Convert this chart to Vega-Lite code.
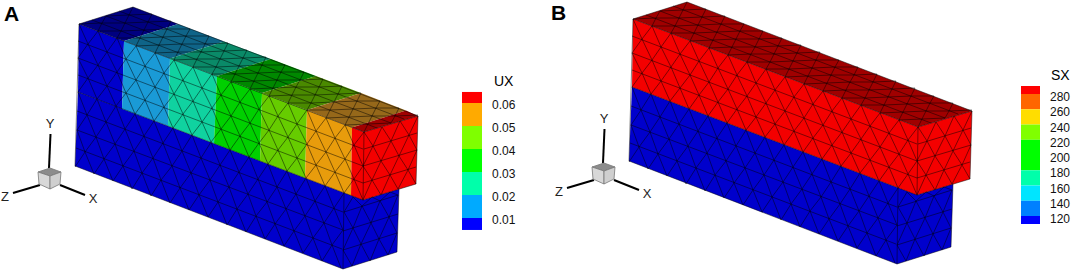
{"$schema":"https://vega.github.io/schema/vega-lite/v6.json","padding":0,"spacing":0,"background":"white",
"config":{"view":{"stroke":null},"axis":{"disable":true},"legend":{"disable":true}},
"datasets":{
"facesA":[
{"p":"a","k":"blue","x":78,"y":92},{"p":"a","k":"blue","x":363,"y":200},{"p":"a","k":"blue","x":343,"y":269},{"p":"a","k":"blue","x":75,"y":166},
{"p":"b","k":"blue","x":344,"y":193},{"p":"b","k":"blue","x":363,"y":200},{"p":"b","k":"blue","x":399,"y":189},{"p":"b","k":"blue","x":397,"y":252},{"p":"b","k":"blue","x":343,"y":269},
{"p":"c","k":"blue","x":79,"y":24},{"p":"c","k":"blue","x":124,"y":41},{"p":"c","k":"blue","x":122,"y":109},{"p":"c","k":"blue","x":78,"y":92},
{"p":"d","k":"sky","x":124,"y":41},{"p":"d","k":"sky","x":170,"y":58.5},{"p":"d","k":"sky","x":168,"y":126},{"p":"d","k":"sky","x":122,"y":109},
{"p":"e","k":"teal","x":170,"y":58.5},{"p":"e","k":"teal","x":217,"y":76},{"p":"e","k":"teal","x":214,"y":143.5},{"p":"e","k":"teal","x":168,"y":126},
{"p":"f","k":"green","x":217,"y":76},{"p":"f","k":"green","x":262,"y":93},{"p":"f","k":"green","x":260,"y":161},{"p":"f","k":"green","x":214,"y":143.5},
{"p":"g","k":"lime","x":262,"y":93},{"p":"g","k":"lime","x":307,"y":110},{"p":"g","k":"lime","x":305,"y":178},{"p":"g","k":"lime","x":260,"y":161},
{"p":"h","k":"orange","x":307,"y":110},{"p":"h","k":"orange","x":352,"y":127.5},{"p":"h","k":"orange","x":351,"y":195.5},{"p":"h","k":"orange","x":305,"y":178},
{"p":"i","k":"red","x":352,"y":127.5},{"p":"i","k":"red","x":364,"y":132},{"p":"i","k":"red","x":418,"y":116},{"p":"i","k":"red","x":416,"y":184},{"p":"i","k":"red","x":363,"y":200},{"p":"i","k":"red","x":351,"y":195.5},
{"p":"j","k":"blue top","x":79,"y":24},{"p":"j","k":"blue top","x":133,"y":7},{"p":"j","k":"blue top","x":178,"y":24},{"p":"j","k":"blue top","x":124,"y":41},
{"p":"k","k":"sky top","x":124,"y":41},{"p":"k","k":"sky top","x":178,"y":24},{"p":"k","k":"sky top","x":224,"y":41.5},{"p":"k","k":"sky top","x":170,"y":58.5},
{"p":"l","k":"teal top","x":170,"y":58.5},{"p":"l","k":"teal top","x":224,"y":41.5},{"p":"l","k":"teal top","x":271,"y":59},{"p":"l","k":"teal top","x":217,"y":76},
{"p":"m","k":"green top","x":217,"y":76},{"p":"m","k":"green top","x":271,"y":59},{"p":"m","k":"green top","x":316,"y":76},{"p":"m","k":"green top","x":262,"y":93},
{"p":"n","k":"lime top","x":262,"y":93},{"p":"n","k":"lime top","x":316,"y":76},{"p":"n","k":"lime top","x":361,"y":93},{"p":"n","k":"lime top","x":307,"y":110},
{"p":"o","k":"orange top","x":307,"y":110},{"p":"o","k":"orange top","x":361,"y":93},{"p":"o","k":"orange top","x":406,"y":110.5},{"p":"o","k":"orange top","x":352,"y":127.5},
{"p":"q","k":"red top","x":352,"y":127.5},{"p":"q","k":"red top","x":406,"y":110.5},{"p":"q","k":"red top","x":418,"y":116},{"p":"q","k":"red top","x":364,"y":132}],
"facesB":[
{"p":"a","k":"blue","x":78,"y":92},{"p":"a","k":"blue","x":363,"y":200},{"p":"a","k":"blue","x":343,"y":269},{"p":"a","k":"blue","x":75,"y":166},
{"p":"b","k":"blue","x":344,"y":193},{"p":"b","k":"blue","x":363,"y":200},{"p":"b","k":"blue","x":399,"y":189},{"p":"b","k":"blue","x":397,"y":252},{"p":"b","k":"blue","x":343,"y":269},
{"p":"c","k":"red","x":79,"y":24},{"p":"c","k":"red","x":364,"y":132},{"p":"c","k":"red","x":418,"y":116},{"p":"c","k":"red","x":416,"y":184},{"p":"c","k":"red","x":363,"y":200},{"p":"c","k":"red","x":78,"y":92},
{"p":"d","k":"red top","x":79,"y":24},{"p":"d","k":"red top","x":133,"y":7},{"p":"d","k":"red top","x":418,"y":116},{"p":"d","k":"red top","x":364,"y":132}],
"mesh":[
{"l":"e1","x":79,"y":24},{"l":"e1","x":133,"y":7},{"l":"e1","x":418,"y":116},{"l":"e1","x":416,"y":184},{"l":"e1","x":363,"y":200},{"l":"e1","x":364,"y":132},{"l":"e1","x":418,"y":116},
{"l":"e2","x":364,"y":132},{"l":"e2","x":79,"y":24},{"l":"e2","x":75,"y":166},{"l":"e2","x":343,"y":269},{"l":"e2","x":397,"y":252},{"l":"e2","x":399,"y":189},
{"l":"e3","x":78,"y":92},{"l":"e3","x":363,"y":200},
{"l":"e4","x":343,"y":269},{"l":"e4","x":344,"y":193},
{"l":"r1","x":78,"y":41},{"l":"r1","x":363,"y":149},{"l":"r2","x":78,"y":58},{"l":"r2","x":363,"y":166},{"l":"r3","x":78,"y":75},{"l":"r3","x":363,"y":183},
{"l":"r4","x":77,"y":111},{"l":"r4","x":343,"y":212},{"l":"r5","x":77,"y":130},{"l":"r5","x":343,"y":230},{"l":"r6","x":76,"y":148},{"l":"r6","x":342,"y":249},
{"l":"r7","x":92,"y":20},{"l":"r7","x":377,"y":128},{"l":"r8","x":106,"y":16},{"l":"r8","x":391,"y":123},{"l":"r9","x":119,"y":11},{"l":"r9","x":404,"y":119},
{"l":"s1","x":364,"y":149},{"l":"s1","x":417,"y":133},{"l":"s2","x":363,"y":166},{"l":"s2","x":417,"y":150},{"l":"s3","x":363,"y":183},{"l":"s3","x":416,"y":167},
{"l":"s4","x":344,"y":212},{"l":"s4","x":398,"y":195},{"l":"s5","x":343,"y":231},{"l":"s5","x":398,"y":214},{"l":"s6","x":343,"y":250},{"l":"s6","x":397,"y":233},
{"l":"u1","x":79,"y":24},{"l":"u1","x":88,"y":44},{"l":"u1","x":98,"y":31},{"l":"u1","x":107,"y":52},{"l":"u1","x":117,"y":38},{"l":"u1","x":126,"y":59},{"l":"u1","x":136,"y":46},{"l":"u1","x":145,"y":66},{"l":"u1","x":155,"y":53},{"l":"u1","x":164,"y":73},{"l":"u1","x":174,"y":60},{"l":"u1","x":183,"y":80},{"l":"u1","x":193,"y":67},{"l":"u1","x":202,"y":88},{"l":"u1","x":212,"y":74},{"l":"u1","x":221,"y":95},{"l":"u1","x":231,"y":82},{"l":"u1","x":240,"y":102},{"l":"u1","x":250,"y":89},{"l":"u1","x":259,"y":109},{"l":"u1","x":269,"y":96},{"l":"u1","x":278,"y":116},{"l":"u1","x":288,"y":103},{"l":"u1","x":297,"y":124},{"l":"u1","x":307,"y":110},{"l":"u1","x":316,"y":131},{"l":"u1","x":326,"y":118},{"l":"u1","x":335,"y":138},{"l":"u1","x":345,"y":125},{"l":"u1","x":354,"y":145},{"l":"u1","x":364,"y":132},
{"l":"u2","x":78,"y":58},{"l":"u2","x":88,"y":44},{"l":"u2","x":98,"y":65},{"l":"u2","x":107,"y":52},{"l":"u2","x":117,"y":72},{"l":"u2","x":126,"y":59},{"l":"u2","x":136,"y":80},{"l":"u2","x":145,"y":66},{"l":"u2","x":155,"y":87},{"l":"u2","x":164,"y":73},{"l":"u2","x":174,"y":94},{"l":"u2","x":183,"y":80},{"l":"u2","x":193,"y":101},{"l":"u2","x":202,"y":88},{"l":"u2","x":212,"y":108},{"l":"u2","x":221,"y":95},{"l":"u2","x":231,"y":116},{"l":"u2","x":240,"y":102},{"l":"u2","x":250,"y":123},{"l":"u2","x":259,"y":109},{"l":"u2","x":269,"y":130},{"l":"u2","x":278,"y":116},{"l":"u2","x":288,"y":137},{"l":"u2","x":297,"y":124},{"l":"u2","x":307,"y":144},{"l":"u2","x":316,"y":131},{"l":"u2","x":326,"y":152},{"l":"u2","x":335,"y":138},{"l":"u2","x":345,"y":159},{"l":"u2","x":354,"y":145},{"l":"u2","x":363,"y":166},
{"l":"u3","x":78,"y":58},{"l":"u3","x":88,"y":78},{"l":"u3","x":98,"y":65},{"l":"u3","x":107,"y":86},{"l":"u3","x":117,"y":72},{"l":"u3","x":126,"y":93},{"l":"u3","x":136,"y":80},{"l":"u3","x":145,"y":100},{"l":"u3","x":155,"y":87},{"l":"u3","x":164,"y":107},{"l":"u3","x":174,"y":94},{"l":"u3","x":183,"y":114},{"l":"u3","x":193,"y":101},{"l":"u3","x":202,"y":122},{"l":"u3","x":212,"y":108},{"l":"u3","x":221,"y":129},{"l":"u3","x":231,"y":116},{"l":"u3","x":240,"y":136},{"l":"u3","x":250,"y":123},{"l":"u3","x":259,"y":143},{"l":"u3","x":269,"y":130},{"l":"u3","x":278,"y":150},{"l":"u3","x":288,"y":137},{"l":"u3","x":297,"y":158},{"l":"u3","x":307,"y":144},{"l":"u3","x":316,"y":165},{"l":"u3","x":326,"y":152},{"l":"u3","x":335,"y":172},{"l":"u3","x":345,"y":159},{"l":"u3","x":354,"y":179},{"l":"u3","x":363,"y":166},
{"l":"u4","x":78,"y":92},{"l":"u4","x":88,"y":78},{"l":"u4","x":97,"y":99},{"l":"u4","x":107,"y":86},{"l":"u4","x":116,"y":106},{"l":"u4","x":126,"y":93},{"l":"u4","x":135,"y":114},{"l":"u4","x":145,"y":100},{"l":"u4","x":154,"y":121},{"l":"u4","x":164,"y":107},{"l":"u4","x":173,"y":128},{"l":"u4","x":183,"y":114},{"l":"u4","x":192,"y":135},{"l":"u4","x":202,"y":122},{"l":"u4","x":211,"y":142},{"l":"u4","x":221,"y":129},{"l":"u4","x":230,"y":150},{"l":"u4","x":240,"y":136},{"l":"u4","x":249,"y":157},{"l":"u4","x":259,"y":143},{"l":"u4","x":268,"y":164},{"l":"u4","x":278,"y":150},{"l":"u4","x":287,"y":171},{"l":"u4","x":297,"y":158},{"l":"u4","x":306,"y":178},{"l":"u4","x":316,"y":165},{"l":"u4","x":325,"y":186},{"l":"u4","x":335,"y":172},{"l":"u4","x":344,"y":193},{"l":"u4","x":354,"y":179},{"l":"u4","x":363,"y":200},
{"l":"v1","x":78,"y":92},{"l":"v1","x":87,"y":115},{"l":"v1","x":97,"y":99},{"l":"v1","x":106,"y":122},{"l":"v1","x":116,"y":106},{"l":"v1","x":125,"y":129},{"l":"v1","x":135,"y":114},{"l":"v1","x":144,"y":136},{"l":"v1","x":154,"y":121},{"l":"v1","x":163,"y":143},{"l":"v1","x":173,"y":128},{"l":"v1","x":182,"y":151},{"l":"v1","x":192,"y":135},{"l":"v1","x":201,"y":158},{"l":"v1","x":211,"y":142},{"l":"v1","x":220,"y":165},{"l":"v1","x":230,"y":150},{"l":"v1","x":239,"y":172},{"l":"v1","x":249,"y":157},{"l":"v1","x":258,"y":179},{"l":"v1","x":268,"y":164},{"l":"v1","x":277,"y":187},{"l":"v1","x":287,"y":171},{"l":"v1","x":296,"y":194},{"l":"v1","x":306,"y":178},{"l":"v1","x":315,"y":201},{"l":"v1","x":325,"y":186},{"l":"v1","x":334,"y":208},{"l":"v1","x":344,"y":193},
{"l":"v2","x":77,"y":130},{"l":"v2","x":87,"y":115},{"l":"v2","x":96,"y":137},{"l":"v2","x":106,"y":122},{"l":"v2","x":115,"y":144},{"l":"v2","x":125,"y":129},{"l":"v2","x":134,"y":151},{"l":"v2","x":144,"y":136},{"l":"v2","x":153,"y":158},{"l":"v2","x":163,"y":143},{"l":"v2","x":172,"y":166},{"l":"v2","x":182,"y":151},{"l":"v2","x":191,"y":173},{"l":"v2","x":201,"y":158},{"l":"v2","x":210,"y":180},{"l":"v2","x":220,"y":165},{"l":"v2","x":229,"y":187},{"l":"v2","x":239,"y":172},{"l":"v2","x":248,"y":194},{"l":"v2","x":258,"y":179},{"l":"v2","x":267,"y":202},{"l":"v2","x":277,"y":187},{"l":"v2","x":286,"y":209},{"l":"v2","x":296,"y":194},{"l":"v2","x":305,"y":216},{"l":"v2","x":315,"y":201},{"l":"v2","x":324,"y":223},{"l":"v2","x":334,"y":208},{"l":"v2","x":343,"y":230},
{"l":"v3","x":77,"y":130},{"l":"v3","x":85,"y":152},{"l":"v3","x":96,"y":137},{"l":"v3","x":104,"y":159},{"l":"v3","x":115,"y":144},{"l":"v3","x":123,"y":166},{"l":"v3","x":134,"y":151},{"l":"v3","x":142,"y":173},{"l":"v3","x":153,"y":158},{"l":"v3","x":161,"y":180},{"l":"v3","x":172,"y":166},{"l":"v3","x":180,"y":188},{"l":"v3","x":191,"y":173},{"l":"v3","x":199,"y":195},{"l":"v3","x":210,"y":180},{"l":"v3","x":218,"y":202},{"l":"v3","x":229,"y":187},{"l":"v3","x":237,"y":209},{"l":"v3","x":248,"y":194},{"l":"v3","x":256,"y":216},{"l":"v3","x":267,"y":202},{"l":"v3","x":275,"y":224},{"l":"v3","x":286,"y":209},{"l":"v3","x":294,"y":231},{"l":"v3","x":305,"y":216},{"l":"v3","x":313,"y":238},{"l":"v3","x":324,"y":223},{"l":"v3","x":332,"y":245},{"l":"v3","x":343,"y":230},
{"l":"v4","x":75,"y":167},{"l":"v4","x":85,"y":152},{"l":"v4","x":94,"y":174},{"l":"v4","x":104,"y":159},{"l":"v4","x":113,"y":181},{"l":"v4","x":123,"y":166},{"l":"v4","x":132,"y":189},{"l":"v4","x":142,"y":173},{"l":"v4","x":151,"y":196},{"l":"v4","x":161,"y":180},{"l":"v4","x":170,"y":203},{"l":"v4","x":180,"y":188},{"l":"v4","x":189,"y":210},{"l":"v4","x":199,"y":195},{"l":"v4","x":208,"y":217},{"l":"v4","x":218,"y":202},{"l":"v4","x":227,"y":225},{"l":"v4","x":237,"y":209},{"l":"v4","x":246,"y":232},{"l":"v4","x":256,"y":216},{"l":"v4","x":265,"y":239},{"l":"v4","x":275,"y":224},{"l":"v4","x":284,"y":246},{"l":"v4","x":294,"y":231},{"l":"v4","x":303,"y":253},{"l":"v4","x":313,"y":238},{"l":"v4","x":322,"y":261},{"l":"v4","x":332,"y":245},{"l":"v4","x":341,"y":268},
{"l":"t1","x":79,"y":24},{"l":"t1","x":102,"y":23},{"l":"t1","x":98,"y":31},{"l":"t1","x":121,"y":31},{"l":"t1","x":117,"y":38},{"l":"t1","x":140,"y":38},{"l":"t1","x":136,"y":46},{"l":"t1","x":159,"y":45},{"l":"t1","x":155,"y":53},{"l":"t1","x":178,"y":52},{"l":"t1","x":174,"y":60},{"l":"t1","x":197,"y":59},{"l":"t1","x":193,"y":67},{"l":"t1","x":216,"y":67},{"l":"t1","x":212,"y":74},{"l":"t1","x":235,"y":74},{"l":"t1","x":231,"y":82},{"l":"t1","x":254,"y":81},{"l":"t1","x":250,"y":89},{"l":"t1","x":273,"y":88},{"l":"t1","x":269,"y":96},{"l":"t1","x":292,"y":95},{"l":"t1","x":288,"y":103},{"l":"t1","x":311,"y":103},{"l":"t1","x":307,"y":110},{"l":"t1","x":330,"y":110},{"l":"t1","x":326,"y":118},{"l":"t1","x":349,"y":117},{"l":"t1","x":345,"y":125},{"l":"t1","x":368,"y":124},{"l":"t1","x":364,"y":132},
{"l":"t2","x":106,"y":16},{"l":"t2","x":102,"y":23},{"l":"t2","x":125,"y":23},{"l":"t2","x":121,"y":31},{"l":"t2","x":144,"y":30},{"l":"t2","x":140,"y":38},{"l":"t2","x":163,"y":37},{"l":"t2","x":159,"y":45},{"l":"t2","x":182,"y":44},{"l":"t2","x":178,"y":52},{"l":"t2","x":201,"y":52},{"l":"t2","x":197,"y":59},{"l":"t2","x":220,"y":59},{"l":"t2","x":216,"y":67},{"l":"t2","x":239,"y":66},{"l":"t2","x":235,"y":74},{"l":"t2","x":258,"y":73},{"l":"t2","x":254,"y":81},{"l":"t2","x":277,"y":80},{"l":"t2","x":273,"y":88},{"l":"t2","x":296,"y":87},{"l":"t2","x":292,"y":95},{"l":"t2","x":315,"y":95},{"l":"t2","x":311,"y":103},{"l":"t2","x":334,"y":102},{"l":"t2","x":330,"y":110},{"l":"t2","x":353,"y":109},{"l":"t2","x":349,"y":117},{"l":"t2","x":372,"y":116},{"l":"t2","x":368,"y":124},{"l":"t2","x":391,"y":123},
{"l":"t3","x":106,"y":16},{"l":"t3","x":129,"y":15},{"l":"t3","x":125,"y":23},{"l":"t3","x":148,"y":22},{"l":"t3","x":144,"y":30},{"l":"t3","x":167,"y":29},{"l":"t3","x":163,"y":37},{"l":"t3","x":186,"y":36},{"l":"t3","x":182,"y":44},{"l":"t3","x":205,"y":44},{"l":"t3","x":201,"y":52},{"l":"t3","x":224,"y":51},{"l":"t3","x":220,"y":59},{"l":"t3","x":243,"y":58},{"l":"t3","x":239,"y":66},{"l":"t3","x":262,"y":65},{"l":"t3","x":258,"y":73},{"l":"t3","x":281,"y":72},{"l":"t3","x":277,"y":80},{"l":"t3","x":300,"y":80},{"l":"t3","x":296,"y":87},{"l":"t3","x":319,"y":87},{"l":"t3","x":315,"y":95},{"l":"t3","x":338,"y":94},{"l":"t3","x":334,"y":102},{"l":"t3","x":357,"y":101},{"l":"t3","x":353,"y":109},{"l":"t3","x":376,"y":108},{"l":"t3","x":372,"y":116},{"l":"t3","x":395,"y":116},{"l":"t3","x":391,"y":123},
{"l":"t4","x":133,"y":7},{"l":"t4","x":129,"y":15},{"l":"t4","x":152,"y":14},{"l":"t4","x":148,"y":22},{"l":"t4","x":171,"y":21},{"l":"t4","x":167,"y":29},{"l":"t4","x":190,"y":29},{"l":"t4","x":186,"y":36},{"l":"t4","x":209,"y":36},{"l":"t4","x":205,"y":44},{"l":"t4","x":228,"y":43},{"l":"t4","x":224,"y":51},{"l":"t4","x":247,"y":50},{"l":"t4","x":243,"y":58},{"l":"t4","x":266,"y":57},{"l":"t4","x":262,"y":65},{"l":"t4","x":285,"y":65},{"l":"t4","x":281,"y":72},{"l":"t4","x":304,"y":72},{"l":"t4","x":300,"y":80},{"l":"t4","x":323,"y":79},{"l":"t4","x":319,"y":87},{"l":"t4","x":342,"y":86},{"l":"t4","x":338,"y":94},{"l":"t4","x":361,"y":93},{"l":"t4","x":357,"y":101},{"l":"t4","x":380,"y":101},{"l":"t4","x":376,"y":108},{"l":"t4","x":399,"y":108},{"l":"t4","x":395,"y":116},{"l":"t4","x":418,"y":115},
{"l":"w1","x":364,"y":132},{"l":"w1","x":373,"y":146},{"l":"w1","x":382,"y":127},{"l":"w1","x":391,"y":141},{"l":"w1","x":400,"y":121},{"l":"w1","x":409,"y":135},{"l":"w1","x":418,"y":116},
{"l":"w2","x":363,"y":166},{"l":"w2","x":373,"y":146},{"l":"w2","x":381,"y":161},{"l":"w2","x":391,"y":141},{"l":"w2","x":399,"y":156},{"l":"w2","x":409,"y":135},{"l":"w2","x":417,"y":150},
{"l":"w3","x":363,"y":166},{"l":"w3","x":372,"y":180},{"l":"w3","x":381,"y":161},{"l":"w3","x":390,"y":175},{"l":"w3","x":399,"y":156},{"l":"w3","x":408,"y":170},{"l":"w3","x":417,"y":150},
{"l":"w4","x":363,"y":200},{"l":"w4","x":372,"y":180},{"l":"w4","x":381,"y":195},{"l":"w4","x":390,"y":175},{"l":"w4","x":398,"y":189},{"l":"w4","x":408,"y":170},{"l":"w4","x":416,"y":184},
{"l":"x0","x":344,"y":212},{"l":"x0","x":353,"y":197},{"l":"x0","x":362,"y":206},{"l":"x0","x":372,"y":197},{"l":"x0","x":380,"y":201},{"l":"x0","x":390,"y":192},{"l":"x0","x":398,"y":195},
{"l":"x1","x":344,"y":212},{"l":"x1","x":353,"y":228},{"l":"x1","x":362,"y":206},{"l":"x1","x":371,"y":223},{"l":"x1","x":380,"y":201},{"l":"x1","x":389,"y":217},{"l":"x1","x":398,"y":195},
{"l":"x2","x":343,"y":250},{"l":"x2","x":353,"y":228},{"l":"x2","x":361,"y":244},{"l":"x2","x":371,"y":223},{"l":"x2","x":379,"y":239},{"l":"x2","x":389,"y":217},{"l":"x2","x":397,"y":233},
{"l":"x3","x":343,"y":250},{"l":"x3","x":352,"y":266},{"l":"x3","x":361,"y":244},{"l":"x3","x":370,"y":261},{"l":"x3","x":379,"y":239},{"l":"x3","x":388,"y":255},{"l":"x3","x":397,"y":233}],
"axes":[
{"a":"Y","x":50.5,"y":134},{"a":"Y","x":49,"y":168},{"a":"X","x":60,"y":185},{"a":"X","x":85,"y":195},{"a":"Z","x":40,"y":185},{"a":"Z","x":13,"y":193}],
"axisLabels":[{"t":"Y","x":50,"y":124},{"t":"X","x":93,"y":199},{"t":"Z","x":5,"y":197}],
"cube":[
{"f":"top","x":38,"y":172},{"f":"top","x":50,"y":168},{"f":"top","x":61,"y":172},{"f":"top","x":50,"y":176},{"f":"top","x":38,"y":172},
{"f":"left","x":38,"y":172},{"f":"left","x":50,"y":176},{"f":"left","x":50,"y":189},{"f":"left","x":39,"y":184},{"f":"left","x":38,"y":172},
{"f":"right","x":50,"y":176},{"f":"right","x":61,"y":172},{"f":"right","x":60,"y":184},{"f":"right","x":50,"y":189},{"f":"right","x":50,"y":176}]
},
"hconcat":[
{"width":536,"height":271,"resolve":{"scale":{"y":"independent","fill":"independent"}},"layer":[
{"data":{"name":"facesA"},"mark":{"type":"line","filled":true},"encoding":{"x":{"field":"x","type":"quantitative","scale":{"domain":[0,536],"nice":false,"zero":false}},"y":{"field":"y","type":"quantitative","scale":{"domain":[271,0],"nice":false,"zero":false}},"detail":{"field":"p"},"order":{"value":null},"fill":{"field":"k","type":"nominal","scale":{"domain":["blue","sky","teal","green","lime","orange","red","blue top","sky top","teal top","green top","lime top","orange top","red top"],"range":["#0000cc","#1a9ad6","#10d2a0","#00d000","#66cc00","#e89c0c","#f40000","#000080","#0f6488","#0a8a68","#008800","#4a8a00","#96681a","#a00000"]}}}},
{"data":{"name":"mesh"},"mark":{"type":"line","stroke":"#000000","strokeWidth":0.6,"opacity":0.8},"encoding":{"x":{"field":"x","type":"quantitative"},"y":{"field":"y","type":"quantitative","scale":{"domain":[271,0],"nice":false,"zero":false}},"detail":{"field":"l"},"order":{"value":null}}},
{"data":{"name":"axes"},"mark":{"type":"line","stroke":"#000000","strokeWidth":2},"encoding":{"x":{"field":"x","type":"quantitative"},"y":{"field":"y","type":"quantitative","scale":{"domain":[271,0],"nice":false,"zero":false}},"detail":{"field":"a"},"order":{"value":null}}},
{"data":{"name":"cube"},"mark":{"type":"line","filled":true,"stroke":"#777777","strokeWidth":0.8},"encoding":{"x":{"field":"x","type":"quantitative"},"y":{"field":"y","type":"quantitative","scale":{"domain":[271,0],"nice":false,"zero":false}},"detail":{"field":"f"},"order":{"value":null},"fill":{"field":"f","type":"nominal","scale":{"domain":["top","left","right"],"range":["#8c8c8c","#d8d8d8","#cfcfcf"]}}}},
{"data":{"name":"axisLabels"},"mark":{"type":"text","font":"Liberation Sans","fontSize":13,"fill":"#222222"},"encoding":{"x":{"field":"x","type":"quantitative"},"y":{"field":"y","type":"quantitative","scale":{"domain":[271,0],"nice":false,"zero":false}},"text":{"field":"t"}}},
{"data":{"values":[{"t":"A","x":4,"y":21}]},"mark":{"type":"text","font":"Liberation Sans","align":"left","baseline":"alphabetic","fill":"#000000","fontSize":21,"fontWeight":"bold"},"encoding":{"x":{"field":"x","type":"quantitative"},"y":{"field":"y","type":"quantitative","scale":{"domain":[271,0],"nice":false,"zero":false}},"text":{"field":"t"}}},
{"data":{"values":[{"t":"UX","x":494,"y":86}]},"mark":{"type":"text","font":"Liberation Sans","align":"left","baseline":"alphabetic","fill":"#000000","fontSize":14},"encoding":{"x":{"field":"x","type":"quantitative"},"y":{"field":"y","type":"quantitative","scale":{"domain":[271,0],"nice":false,"zero":false}},"text":{"field":"t"}}},
{"data":{"values":[{"lo":0.06,"hi":0.0648,"k":"a"},{"lo":0.05,"hi":0.06,"k":"b"},{"lo":0.04,"hi":0.05,"k":"c"},{"lo":0.03,"hi":0.04,"k":"d"},{"lo":0.02,"hi":0.03,"k":"e"},{"lo":0.01,"hi":0.02,"k":"f"},{"lo":0.0048,"hi":0.01,"k":"g"}]},"mark":{"type":"rect"},"encoding":{"x":{"datum":462,"type":"quantitative"},"x2":{"datum":482},"y":{"field":"lo","type":"quantitative","scale":{"domain":[-0.01304,0.10478],"nice":false,"zero":false}},"y2":{"field":"hi"},"fill":{"field":"k","type":"nominal","scale":{"domain":["a","b","c","d","e","f","g"],"range":["#ff0000","#ffaa00","#7fff00","#00ff00","#00ffaa","#00aaff","#0000ff"]}}}},
{"data":{"values":[{"v":0.06,"t":"0.06"},{"v":0.05,"t":"0.05"},{"v":0.04,"t":"0.04"},{"v":0.03,"t":"0.03"},{"v":0.02,"t":"0.02"},{"v":0.01,"t":"0.01"}]},"mark":{"type":"text","font":"Liberation Sans","fontSize":12,"align":"left","dy":2,"fill":"#111111"},"encoding":{"x":{"datum":492,"type":"quantitative"},"y":{"field":"v","type":"quantitative","scale":{"domain":[-0.01304,0.10478],"nice":false,"zero":false}},"text":{"field":"t"}}}
]},
{"width":536,"height":271,"resolve":{"scale":{"y":"independent","fill":"independent"}},"layer":[
{"data":{"name":"facesB"},"mark":{"type":"line","filled":true},"encoding":{"x":{"field":"x","type":"quantitative","scale":{"domain":[-18,518],"nice":false,"zero":false}},"y":{"field":"y","type":"quantitative","scale":{"domain":[276,5],"nice":false,"zero":false}},"detail":{"field":"p"},"order":{"value":null},"fill":{"field":"k","type":"nominal","scale":{"domain":["blue","red","red top"],"range":["#0000cc","#f40000","#a00000"]}}}},
{"data":{"name":"mesh"},"mark":{"type":"line","stroke":"#000000","strokeWidth":0.6,"opacity":0.8},"encoding":{"x":{"field":"x","type":"quantitative"},"y":{"field":"y","type":"quantitative","scale":{"domain":[276,5],"nice":false,"zero":false}},"detail":{"field":"l"},"order":{"value":null}}},
{"data":{"name":"axes"},"mark":{"type":"line","stroke":"#000000","strokeWidth":2},"encoding":{"x":{"field":"x","type":"quantitative"},"y":{"field":"y","type":"quantitative","scale":{"domain":[276,5],"nice":false,"zero":false}},"detail":{"field":"a"},"order":{"value":null}}},
{"data":{"name":"cube"},"mark":{"type":"line","filled":true,"stroke":"#777777","strokeWidth":0.8},"encoding":{"x":{"field":"x","type":"quantitative"},"y":{"field":"y","type":"quantitative","scale":{"domain":[276,5],"nice":false,"zero":false}},"detail":{"field":"f"},"order":{"value":null},"fill":{"field":"f","type":"nominal","scale":{"domain":["top","left","right"],"range":["#8c8c8c","#d8d8d8","#cfcfcf"]}}}},
{"data":{"name":"axisLabels"},"mark":{"type":"text","font":"Liberation Sans","fontSize":13,"fill":"#222222"},"encoding":{"x":{"field":"x","type":"quantitative"},"y":{"field":"y","type":"quantitative","scale":{"domain":[276,5],"nice":false,"zero":false}},"text":{"field":"t"}}},
{"data":{"values":[{"t":"B","x":-3,"y":25}]},"mark":{"type":"text","font":"Liberation Sans","align":"left","baseline":"alphabetic","fill":"#000000","fontSize":21,"fontWeight":"bold"},"encoding":{"x":{"field":"x","type":"quantitative"},"y":{"field":"y","type":"quantitative","scale":{"domain":[276,5],"nice":false,"zero":false}},"text":{"field":"t"}}},
{"data":{"values":[{"t":"SX","x":497,"y":85}]},"mark":{"type":"text","font":"Liberation Sans","align":"left","baseline":"alphabetic","fill":"#000000","fontSize":14},"encoding":{"x":{"field":"x","type":"quantitative"},"y":{"field":"y","type":"quantitative","scale":{"domain":[276,5],"nice":false,"zero":false}},"text":{"field":"t"}}},
{"data":{"values":[{"lo":280,"hi":290.5,"k":"a"},{"lo":260,"hi":280,"k":"b"},{"lo":240,"hi":260,"k":"c"},{"lo":220,"hi":240,"k":"d"},{"lo":180,"hi":220,"k":"e"},{"lo":160,"hi":180,"k":"f"},{"lo":140,"hi":160,"k":"g"},{"lo":120,"hi":140,"k":"h"},{"lo":109.5,"hi":120,"k":"i"}]},"mark":{"type":"rect"},"encoding":{"x":{"datum":467,"type":"quantitative"},"x2":{"datum":486},"y":{"field":"lo","type":"quantitative","scale":{"domain":[47.9,403.3],"nice":false,"zero":false}},"y2":{"field":"hi"},"fill":{"field":"k","type":"nominal","scale":{"domain":["a","b","c","d","e","f","g","h","i"],"range":["#ff0000","#ff6600","#ffdd00","#80ff00","#00ff00","#00ffaa","#00e5ff","#0080ff","#0000ff"]}}}},
{"data":{"values":[{"v":280,"t":"280"},{"v":260,"t":"260"},{"v":240,"t":"240"},{"v":220,"t":"220"},{"v":200,"t":"200"},{"v":180,"t":"180"},{"v":160,"t":"160"},{"v":140,"t":"140"},{"v":120,"t":"120"}]},"mark":{"type":"text","font":"Liberation Sans","fontSize":12,"align":"left","dy":3,"fill":"#111111"},"encoding":{"x":{"datum":496,"type":"quantitative"},"y":{"field":"v","type":"quantitative","scale":{"domain":[47.9,403.3],"nice":false,"zero":false}},"text":{"field":"t"}}}
]}
]}
